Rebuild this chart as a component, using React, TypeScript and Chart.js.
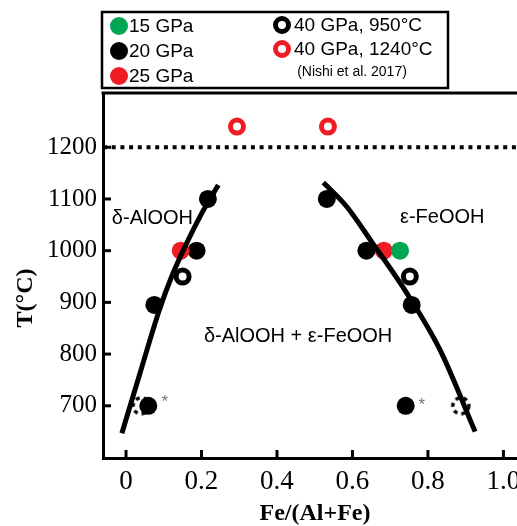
import React, { useEffect, useRef } from 'react';
import { Chart, registerables } from 'chart.js';
Chart.register(...registerables);

// ---- axis ranges & ticks ----
const X_MIN = -0.061;
const X_MAX = 1.036;
const Y_MIN = 599;
const Y_MAX = 1305;
const xTicks = [0, 0.2, 0.4, 0.6, 0.8, 1.0];
const xTickLabels = ['0', '0.2', '0.4', '0.6', '0.8', '1.0'];
const yTicks = [700, 800, 900, 1000, 1100, 1200];
const yTickLabels = ['700', '800', '900', '1000', '1100', '1200'];

// ---- data ----
const gpa15X = [0.726];
const gpa15Y = [1000];
const gpa20X = [0.217, 0.187, 0.075, 0.059, 0.532, 0.637, 0.757, 0.741];
const gpa20Y = [1100, 1000, 895, 700, 1100, 1000, 895, 700];
const gpa25X = [0.145, 0.683];
const gpa25Y = [1000, 1000];
const gpa40lowX = [0.150, 0.752];
const gpa40lowY = [950, 950];
const gpa40highX = [0.294, 0.535];
const gpa40highY = [1240, 1240];
const dashedX = [0.040, 0.887];
const dashedY = [700, 700];

const leftCurveX = [-0.011, 0.037, 0.090, 0.121, 0.152, 0.196, 0.2445];
const leftCurveY = [647, 763, 889, 950, 1001, 1066, 1127];
const rightCurveX = [0.523, 0.585, 0.651, 0.744, 0.832, 0.925];
const rightCurveY = [1132, 1085, 1017, 918, 808, 650];

const limitX = [X_MIN, X_MAX];
const limitY = [1200, 1200];

const annotations = [
  { text: 'δ-AlOOH', x: 0.070, y: 1063, size: 20, color: '#000' },
  { text: 'ε-FeOOH', x: 0.838, y: 1065, size: 20, color: '#000' },
  { text: 'δ-AlOOH + ε-FeOOH', x: 0.456, y: 835, size: 20, color: '#000' },
  { text: '*', x: 0.103, y: 706, size: 17, color: '#777' },
  { text: '*', x: 0.784, y: 700, size: 17, color: '#777' },
];

const RED = '#ee1d24';
const GREEN = '#00a651';
const BLACK = '#000000';

const legendCol1 = [
  { label: '15 GPa', color: GREEN, filled: true },
  { label: '20 GPa', color: BLACK, filled: true },
  { label: '25 GPa', color: RED, filled: true },
];
const legendCol2 = [
  { label: '40 GPa, 950°C', color: BLACK, filled: false },
  { label: '40 GPa, 1240°C', color: RED, filled: false },
];
const legendNote = '(Nishi et al. 2017)';

const zip = (xs: number[], ys: number[]) => xs.map((x, i) => ({ x, y: ys[i] }));

function makeDashedRing(): HTMLCanvasElement {
  const c = document.createElement('canvas');
  c.width = 24;
  c.height = 24;
  const g = c.getContext('2d')!;
  g.strokeStyle = '#000';
  g.lineWidth = 3.5;
  g.setLineDash([4, 4]);
  g.beginPath();
  g.arc(12, 12, 8, 0, Math.PI * 2);
  g.stroke();
  return c;
}

const overlayPlugin = {
  id: 'overlay',
  afterDraw(chart: any) {
    const { ctx, chartArea, scales } = chart;
    const { left, right, top, bottom } = chartArea;
    const xs = scales.x;
    const ys = scales.y;
    ctx.save();
    // top frame
    ctx.strokeStyle = '#000';
    ctx.lineWidth = 3;
    ctx.beginPath();
    ctx.moveTo(left - 1.5, top);
    ctx.lineTo(right, top);
    ctx.stroke();
    // inward ticks
    ctx.lineWidth = 3;
    xs.ticks.forEach((t: any) => {
      const px = xs.getPixelForValue(t.value);
      ctx.beginPath();
      ctx.moveTo(px, bottom);
      ctx.lineTo(px, bottom - 8);
      ctx.stroke();
    });
    ys.ticks.forEach((t: any) => {
      const py = ys.getPixelForValue(t.value);
      ctx.beginPath();
      ctx.moveTo(left, py);
      ctx.lineTo(left + 8, py);
      ctx.stroke();
    });
    // annotations
    ctx.textAlign = 'center';
    ctx.textBaseline = 'middle';
    annotations.forEach((a) => {
      ctx.fillStyle = a.color;
      ctx.font = `${a.size}px "Liberation Sans", Arial, sans-serif`;
      ctx.fillText(a.text, xs.getPixelForValue(a.x), ys.getPixelForValue(a.y));
    });
    // axis titles
    ctx.fillStyle = '#000';
    ctx.font = 'bold 24px "Liberation Serif", "Times New Roman", serif';
    ctx.fillText('Fe/(Al+Fe)', 315, 514);
    ctx.save();
    ctx.translate(26, 298);
    ctx.rotate(-Math.PI / 2);
    ctx.fillText('T(°C)', 0, 0);
    ctx.restore();

    // legend box
    ctx.lineWidth = 2.5;
    ctx.strokeStyle = '#000';
    ctx.strokeRect(102, 12, 346, 76);
    const drawMarker = (cx: number, cy: number, color: string, filled: boolean) => {
      ctx.beginPath();
      if (filled) {
        ctx.fillStyle = color;
        ctx.arc(cx, cy, 9, 0, Math.PI * 2);
        ctx.fill();
      } else {
        ctx.strokeStyle = color;
        ctx.lineWidth = 5;
        ctx.arc(cx, cy, 6.5, 0, Math.PI * 2);
        ctx.stroke();
      }
    };
    ctx.font = '19px "Liberation Sans", Arial, sans-serif';
    ctx.textAlign = 'left';
    legendCol1.forEach((it, i) => {
      const cy = 26 + i * 25;
      drawMarker(119, cy, it.color, it.filled);
      ctx.fillStyle = '#000';
      ctx.fillText(it.label, 129, cy + 1);
    });
    legendCol2.forEach((it, i) => {
      const cy = 25 + i * 24;
      drawMarker(282, cy, it.color, it.filled);
      ctx.fillStyle = '#000';
      ctx.font = '19px "Liberation Sans", Arial, sans-serif';
      ctx.fillText(it.label, 294, cy + 1);
    });
    ctx.font = '14px "Liberation Sans", Arial, sans-serif';
    ctx.textAlign = 'center';
    ctx.fillStyle = '#000';
    ctx.fillText(legendNote, 352, 72);
    ctx.restore();
  },
};

export default function App() {
  const ref = useRef<HTMLCanvasElement | null>(null);
  useEffect(() => {
    if (!ref.current) return;
    const ring = makeDashedRing();
    const scatter = (data: any[], color: string, filled: boolean) => ({
      type: 'scatter' as const,
      data,
      showLine: false,
      pointRadius: filled ? 9 : 6.5,
      pointHoverRadius: filled ? 9 : 6.5,
      pointBackgroundColor: filled ? color : 'rgba(0,0,0,0)',
      pointBorderColor: color,
      pointBorderWidth: filled ? 0 : 5,
    });
    const chart = new Chart(ref.current, {
      type: 'scatter',
      data: {
        datasets: [
          {
            type: 'line',
            data: zip(leftCurveX, leftCurveY),
            borderColor: '#000',
            borderWidth: 5,
            pointRadius: 0,
            cubicInterpolationMode: 'monotone',
            fill: false,
          } as any,
          {
            type: 'line',
            data: zip(rightCurveX, rightCurveY),
            borderColor: '#000',
            borderWidth: 5,
            pointRadius: 0,
            cubicInterpolationMode: 'monotone',
            fill: false,
          } as any,
          scatter(zip(gpa15X, gpa15Y), GREEN, true),
          scatter(zip(gpa25X, gpa25Y), RED, true),
          scatter(zip(gpa20X, gpa20Y), BLACK, true),
          scatter(zip(gpa40lowX, gpa40lowY), BLACK, false),
          scatter(zip(gpa40highX, gpa40highY), RED, false),
          {
            type: 'scatter',
            data: zip(dashedX, dashedY),
            pointStyle: ring,
          } as any,
          {
            type: 'line',
            data: zip(limitX, limitY),
            borderColor: '#000',
            borderWidth: 4,
            borderDash: [4, 4.7],
            pointRadius: 0,
            fill: false,
          } as any,
        ],
      },
      options: {
        animation: false,
        responsive: false,
        devicePixelRatio: 1,
        layout: { autoPadding: false, padding: { top: 93, left: 0, right: 0, bottom: 0 } },
        plugins: { legend: { display: false }, tooltip: { enabled: false } },
        scales: {
          x: {
            type: 'linear',
            min: X_MIN,
            max: X_MAX,
            grid: { display: false, drawTicks: false },
            border: { display: true, width: 3, color: '#000' },
            ticks: {
              padding: 8,
              color: '#000',
              font: { family: '"Liberation Serif", "Times New Roman", serif', size: 27 },
              callback: (v: any) => {
                const i = xTicks.findIndex((t) => Math.abs(t - v) < 1e-6);
                return i >= 0 ? xTickLabels[i] : '';
              },
            },
            afterBuildTicks: (s: any) => {
              s.ticks = xTicks.map((v) => ({ value: v }));
            },
            afterFit: (s: any) => {
              s.height = 68;
              s.paddingLeft = 0;
              s.paddingRight = 0;
            },
          },
          y: {
            type: 'linear',
            min: Y_MIN,
            max: Y_MAX,
            grid: { display: false, drawTicks: false },
            border: { display: true, width: 3, color: '#000' },
            ticks: {
              padding: 6,
              color: '#000',
              font: { family: '"Liberation Serif", "Times New Roman", serif', size: 25 },
              callback: (v: any) => {
                const i = yTicks.findIndex((t) => Math.abs(t - v) < 1e-6);
                return i >= 0 ? yTickLabels[i] : '';
              },
            },
            afterBuildTicks: (s: any) => {
              s.ticks = yTicks.map((v) => ({ value: v }));
            },
            afterFit: (s: any) => {
              s.width = 103;
              s.paddingTop = 0;
              s.paddingBottom = 0;
            },
          },
        },
      },
      plugins: [overlayPlugin],
    });
    return () => chart.destroy();
  }, []);
  return (
    <div style={{ position: 'fixed', left: 0, top: 0, width: 517, height: 526, background: '#fff' }}>
      <canvas ref={ref} width={517} height={526} style={{ width: 517, height: 526 }} />
    </div>
  );
}
